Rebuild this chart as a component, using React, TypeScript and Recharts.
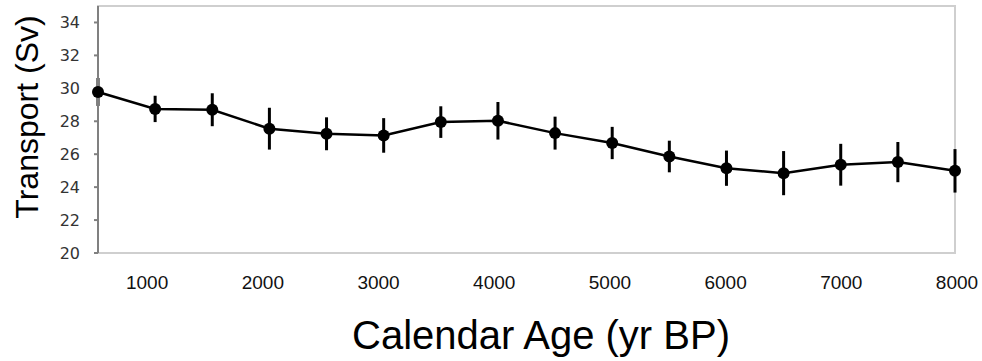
import {
    LineChart,
    Line,
    XAxis,
    YAxis,
    ErrorBar,
    ReferenceArea,
} from 'recharts';

// calendar age (yr BP)
const ages = [500, 1000, 1500, 2000, 2500, 3000, 3500, 4000, 4500, 5000, 5500, 6000, 6500, 7000, 7500, 8000];
// transport (Sv)
const transport = [29.78, 28.75, 28.7, 27.55, 27.24, 27.14, 27.95, 28.03, 27.28, 26.68, 25.86, 25.15, 24.85, 25.36, 25.52, 24.99];
// half-length of the error bars
const errors = [0.85, 0.8, 1.0, 1.27, 1.0, 1.05, 0.96, 1.14, 1.0, 0.98, 0.96, 1.07, 1.34, 1.27, 1.22, 1.32];

const xTicks = [1000, 2000, 3000, 4000, 5000, 6000, 7000, 8000];
const yTicks = [20, 22, 24, 26, 28, 30, 32, 34];

const data = ages.map((age, i) => ({ age, value: transport[i], err: errors[i] }));

// tick labels in the original sit a few px off their grid positions
const XTick = (props: any) => {
    const { x, y, payload } = props;
    const dx = -8 + ((payload.value - 1000) / 7000) * 10;
    return (
        <text
            x={x + dx}
            y={y}
            dy="0.71em"
            textAnchor="middle"
            fontFamily="'Liberation Sans', Arial, sans-serif"
            fontSize={19}
            fill="#111"
        >
            {payload.value}
        </text>
    );
};

const YTick = (props: any) => {
    const { x, y, payload } = props;
    return (
        <text
            x={x}
            y={y}
            dy="0.36em"
            textAnchor="end"
            fontFamily="'DejaVu Sans', Verdana, sans-serif"
            fontSize={16}
            fill="#333"
        >
            {payload.value}
        </text>
    );
};

export default function App() {
    return (
        <div style={{ position: 'absolute', left: 0, top: 0, width: 982, height: 361, background: '#fff' }}>
            <LineChart
                width={982}
                height={361}
                data={data}
                margin={{ top: 6, right: 27, left: 0, bottom: 0 }}
            >
                <ReferenceArea
                    x1={500}
                    x2={8000}
                    y1={20}
                    y2={35}
                    fill="none"
                    stroke="#cfcfcf"
                    strokeWidth={2}
                />
                <XAxis
                    dataKey="age"
                    type="number"
                    domain={[500, 8000]}
                    ticks={xTicks}
                    axisLine={false}
                    tickLine={false}
                    tickSize={0}
                    tickMargin={23}
                    height={108}
                    tick={<XTick />}
                    label={{
                        content: () => (
                            <text
                                x={541}
                                y={349}
                                textAnchor="middle"
                                fontFamily="'Liberation Sans', Arial, sans-serif"
                                fontSize={40}
                                fill="#000"
                            >
                                Calendar Age (yr BP)
                            </text>
                        ),
                    }}
                />
                <YAxis
                    type="number"
                    domain={[20, 35]}
                    ticks={yTicks}
                    width={98}
                    stroke="#808080"
                    strokeWidth={2}
                    tickSize={4}
                    tickMargin={14}
                    tick={<YTick />}
                    label={{
                        content: () => (
                            <text
                                x={38}
                                y={117}
                                transform="rotate(-90 38 117)"
                                textAnchor="middle"
                                fontFamily="'Liberation Sans', Arial, sans-serif"
                                fontSize={32}
                                fill="#000"
                            >
                                Transport (Sv)
                            </text>
                        ),
                    }}
                />
                <Line
                    type="linear"
                    dataKey="value"
                    stroke="#000"
                    strokeWidth={2.5}
                    dot={{ r: 6, fill: '#000', stroke: '#000', strokeWidth: 0 }}
                    activeDot={false}
                    isAnimationActive={false}
                >
                    <ErrorBar dataKey="err" direction="y" width={0} strokeWidth={3} stroke="#000" isAnimationActive={false} />
                </Line>
            </LineChart>
        </div>
    );
}
